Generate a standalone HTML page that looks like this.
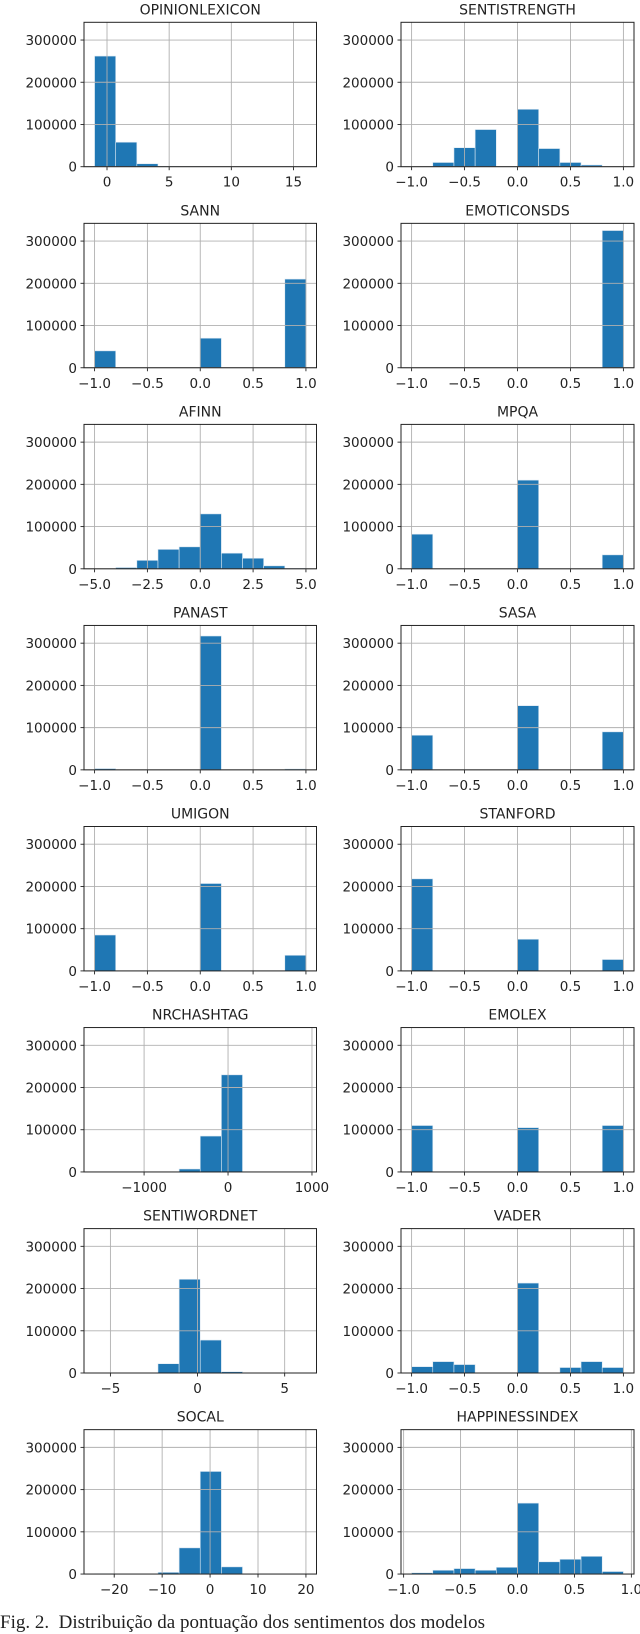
<!DOCTYPE html>
<html><head><meta charset="utf-8">
<style>
html,body{margin:0;padding:0;background:#fff;width:640px;height:1626px;overflow:hidden;}
svg{display:block;}
.cap{position:absolute;left:0;top:1612px;font-family:"Liberation Serif",serif;font-size:19px;color:#222;white-space:nowrap;}
</style></head>
<body>
<svg id="chart" width="640" height="1626" xmlns="http://www.w3.org/2000/svg"></svg>
<div class="cap">Fig. 2.&nbsp; Distribuição da pontuação dos sentimentos dos modelos</div>
<script>
const titles = ["OPINIONLEXICON","SENTISTRENGTH","SANN","EMOTICONSDS","AFINN","MPQA","PANAST","SASA","UMIGON","STANFORD","NRCHASHTAG","EMOLEX","SENTIWORDNET","VADER","SOCAL","HAPPINESSINDEX"];
const rangeLo = [-1,-1,-1,-1,-5,-1,-1,-1,-1,-1,-1590,-1,-5.91,-1,-24.1,-0.93];
const rangeHi = [16,1,1,1,5,1,1,1,1,1,928,1,6.22,1,20,0.93];
const counts = [
 [262000,58000,7000,1000,300,0,0,0,0,200],
 [0,10000,45000,88000,0,136000,43000,10000,4000,0],
 [40000,0,0,0,0,70000,0,0,0,210000],
 [0,0,0,0,0,0,0,0,0,325000],
 [0,3000,20000,46000,52000,130000,37000,25000,7000,1000],
 [82000,0,0,0,0,210000,0,0,0,33000],
 [3000,0,0,0,0,317000,0,0,0,2000],
 [82000,0,0,0,0,152000,0,0,0,90000],
 [85000,0,0,0,0,207000,0,0,0,37000],
 [218000,0,0,0,0,75000,0,0,0,27000],
 [0,0,0,0,7000,85000,230000,0,0,0],
 [110000,0,0,0,0,105000,0,0,0,110000],
 [0,0,0,22000,222000,78000,3000,0,0,0],
 [15000,27000,20000,0,0,213000,0,13000,27000,13000],
 [800,0,0,4000,62000,243000,17000,0,0,0],
 [3000,9000,13000,9000,16000,168000,29000,35000,42000,6000]
];
const unitTicks = [-1,-0.5,0,0.5,1];
const xTicks = [[0,5,10,15],unitTicks,unitTicks,unitTicks,[-5,-2.5,0,2.5,5],unitTicks,unitTicks,unitTicks,unitTicks,unitTicks,[-1000,0,1000],unitTicks,[-5,0,5],unitTicks,[-20,-10,0,10,20],unitTicks];
const yTicks = [0,100000,200000,300000];
const yMax = 342000;

const NS="http://www.w3.org/2000/svg";
const svg=document.getElementById('chart');
function mk(tag,attrs,parent){const e=document.createElementNS(NS,tag);for(const k in attrs)e.setAttribute(k,attrs[k]);(parent||svg).appendChild(e);return e;}
function fmt(v,dec){const s=dec?v.toFixed(1):String(v);return s.replace('-','\u2212');}
const colX=[[84,316.5],[401,634]];
const top0=22.3, pitch=201.05, H=144.4;
titles.forEach((t,i)=>{
  const col=i%2,row=Math.floor(i/2);
  const X0=colX[col][0],X1=colX[col][1],Y0=top0+row*pitch,Y1=Y0+H;
  const lo=rangeLo[i],hi=rangeHi[i],m=(hi-lo)*0.05,xl=lo-m,xh=hi+m;
  const sx=v=>X0+(v-xl)/(xh-xl)*(X1-X0);
  const sy=v=>Y1-v/yMax*H;
  const g=mk('g',{});
  
  
  const tt=mk('text',{x:(X0+X1)/2,y:Y0-8,'text-anchor':'middle','font-family':'DejaVu Sans, sans-serif','font-size':'14',fill:'#222'},g);
  tt.textContent=t;
  
  
  const bw=(hi-lo)/10;
  counts[i].forEach((c,k)=>{
    if(c<=0)return;
    const r=mk('rect',{x:sx(lo+k*bw),y:sy(c),width:sx(lo+(k+1)*bw)-sx(lo+k*bw),height:sy(0)-sy(c),fill:'#1f77b4',stroke:'#dce8f2','stroke-width':'0.6'},g);
    
    
  });
  const dec=xTicks[i].some(v=>v%1!==0);
  xTicks[i].forEach(v=>{
    const x=sx(v);
    mk('line',{x1:x,x2:x,y1:Y0,y2:Y1,stroke:'#b0b0b0','stroke-width':'0.9'},g);
    mk('line',{x1:x,x2:x,y1:Y1,y2:Y1+3.5,stroke:'#222','stroke-width':'0.9'},g);
    const lb=mk('text',{x:x,y:Y1+20,'text-anchor':'middle','font-family':'DejaVu Sans, sans-serif','font-size':'13.5',fill:'#222'},g);
    lb.textContent=fmt(v,dec);
    
    
  });
  yTicks.forEach(v=>{
    const y=sy(v);
    mk('line',{x1:X0,x2:X1,y1:y,y2:y,stroke:'#b0b0b0','stroke-width':'0.9'},g);
    mk('line',{x1:X0-3.5,x2:X0,y1:y,y2:y,stroke:'#222','stroke-width':'0.9'},g);
    const lb=mk('text',{x:X0-7,y:y+5,'text-anchor':'end','font-family':'DejaVu Sans, sans-serif','font-size':'13.5',fill:'#222'},g);
    lb.textContent=String(v);
    
    
  });
  mk('rect',{x:X0,y:Y0,width:X1-X0,height:H,fill:'none',stroke:'#222','stroke-width':'1'},g);
});
</script>
</body></html>
